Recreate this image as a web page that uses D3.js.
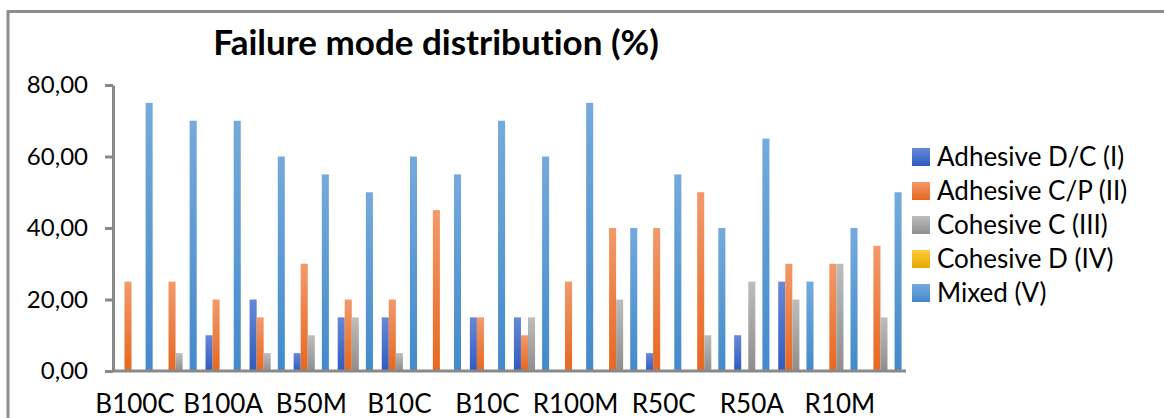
<!DOCTYPE html>
<html>
<head>
<meta charset="utf-8">
<script src="https://cdn.jsdelivr.net/npm/d3@7/dist/d3.min.js"></script>
<style>
  html, body { margin: 0; padding: 0; background: #fff; }
  svg { display: block; font-family: Lato, "Open Sans", sans-serif; font-variant-ligatures: none; }
</style>
</head>
<body>
<svg id="chart" width="1164" height="418"></svg>
<script>
// Specimen groups along the x axis
const categories = ["B100C", "B100M", "B100A", "B50C", "B50M", "B50A", "B10C", "B10M", "B10C",
                    "R100C", "R100M", "R100A", "R50C", "R50M", "R50A", "R10C", "R10M", "R10A"];

// Failure mode series (%)
const seriesNames = ["Adhesive D/C (I)", "Adhesive C/P (II)", "Cohesive C (III)", "Cohesive D (IV)", "Mixed (V)"];
const adhesiveDC = [0, 0, 10, 20, 5, 15, 15, 0, 15, 15, 0, 0, 5, 0, 10, 25, 0, 0];
const adhesiveCP = [25, 25, 20, 15, 30, 20, 20, 45, 15, 10, 25, 40, 40, 50, 0, 30, 30, 35];
const cohesiveC  = [0, 5, 0, 5, 10, 15, 5, 0, 0, 15, 0, 20, 0, 10, 25, 20, 30, 15];
const cohesiveD  = [0, 0, 0, 0, 0, 0, 0, 0, 0, 0, 0, 0, 0, 0, 0, 0, 0, 0];
const mixed      = [75, 70, 70, 60, 55, 50, 60, 55, 70, 60, 75, 40, 55, 40, 65, 25, 40, 50];

const yTicks = [0, 20, 40, 60, 80];

const seriesValues = [adhesiveDC, adhesiveCP, cohesiveC, cohesiveD, mixed];
const colors = [
  ["#6788d8", "#2f5cbf"],
  ["#f3996a", "#e6681f"],
  ["#bdbdbd", "#8e8e8e"],
  ["#ffcb3d", "#e7a700"],
  ["#75aadd", "#438acb"]
];

const svg = d3.select("#chart");
const margin = { left: 113, right: 258, top: 85, bottom: 47 };
const W = 1164, H = 418;

const x0 = d3.scaleBand()
  .domain(d3.range(categories.length))
  .range([margin.left, W - margin.right])
  .paddingInner(0.2)
  .paddingOuter(0.1);

const x1 = d3.scaleBand()
  .domain(d3.range(seriesNames.length))
  .range([0, x0.bandwidth()]);

const y = d3.scaleLinear()
  .domain([0, 80])
  .range([H - margin.bottom, margin.top]);

const fmt = d3.formatLocale({ decimal: ",", thousands: ".", grouping: [3], currency: ["", ""] }).format(".2f");

// Vertical gradients for the bar fills
const defs = svg.append("defs");
colors.forEach((c, i) => {
  const g = defs.append("linearGradient")
    .attr("id", "grad" + i)
    .attr("x1", 0).attr("y1", 0).attr("x2", 0).attr("y2", 1);
  g.append("stop").attr("offset", "0%").attr("stop-color", c[0]);
  g.append("stop").attr("offset", "100%").attr("stop-color", c[1]);
});

// Outer frame (top and left edges)
svg.append("path")
  .attr("d", `M8,${H + 2} L8,11.5 L${W + 2},11.5`)
  .attr("fill", "none")
  .attr("stroke", "#8c8c8c")
  .attr("stroke-width", 3);

// Title
svg.append("text")
  .attr("x", 436)
  .attr("y", 55)
  .attr("text-anchor", "middle")
  .attr("font-weight", "bold")
  .attr("font-size", 35)
  .attr("fill", "#000")
  .text("Failure mode distribution (%)");

// Bars
const groups = svg.append("g")
  .selectAll("g")
  .data(categories.map((c, i) => i))
  .join("g")
  .attr("transform", i => `translate(${x0(i)},0)`);

groups.selectAll("rect")
  .data(i => seriesValues.map((vals, s) => ({ s, v: vals[i] })))
  .join("rect")
  .filter(d => d.v > 0)
  .attr("x", d => x1(d.s))
  .attr("y", d => y(d.v))
  .attr("width", x1.bandwidth())
  .attr("height", d => y(0) - y(d.v))
  .attr("fill", d => `url(#grad${d.s})`);

// Y axis
const yAxis = svg.append("g")
  .attr("transform", `translate(${margin.left},0)`)
  .call(d3.axisLeft(y).tickValues(yTicks).tickFormat(fmt).tickSize(8).tickSizeOuter(0).tickPadding(17));
yAxis.select(".domain").attr("stroke", "#898989").attr("stroke-width", 3);
yAxis.selectAll(".tick line").attr("stroke", "#898989").attr("stroke-width", 3);
yAxis.selectAll(".tick text")
  .attr("font-size", 24)
  .attr("font-family", "Lato, sans-serif")
  .attr("fill", "#000");

// X axis (labels on every other group)
const xAxis = svg.append("g")
  .attr("transform", `translate(0,${y(0)})`)
  .call(d3.axisBottom(x0)
    .tickValues(d3.range(0, categories.length, 2))
    .tickFormat(i => categories[i])
    .tickSize(0)
    .tickPadding(24));
xAxis.select(".domain")
  .attr("d", `M${margin.left},0H${W - margin.right}`)
  .attr("stroke", "#898989").attr("stroke-width", 3);
xAxis.selectAll(".tick text")
  .attr("font-size", 26)
  .attr("font-family", "Lato, sans-serif")
  .attr("fill", "#000");

// Legend
const legend = svg.append("g")
  .attr("transform", "translate(912,148)")
  .selectAll("g")
  .data(seriesNames)
  .join("g")
  .attr("transform", (d, i) => `translate(0,${i * 34})`);
legend.append("rect")
  .attr("width", 18).attr("height", 18)
  .attr("fill", (d, i) => `url(#grad${i})`);
legend.append("text")
  .attr("x", 25)
  .attr("y", 18)
  .attr("font-size", 26)
  .attr("fill", "#000")
  .text(d => d);
</script>
</body>
</html>
